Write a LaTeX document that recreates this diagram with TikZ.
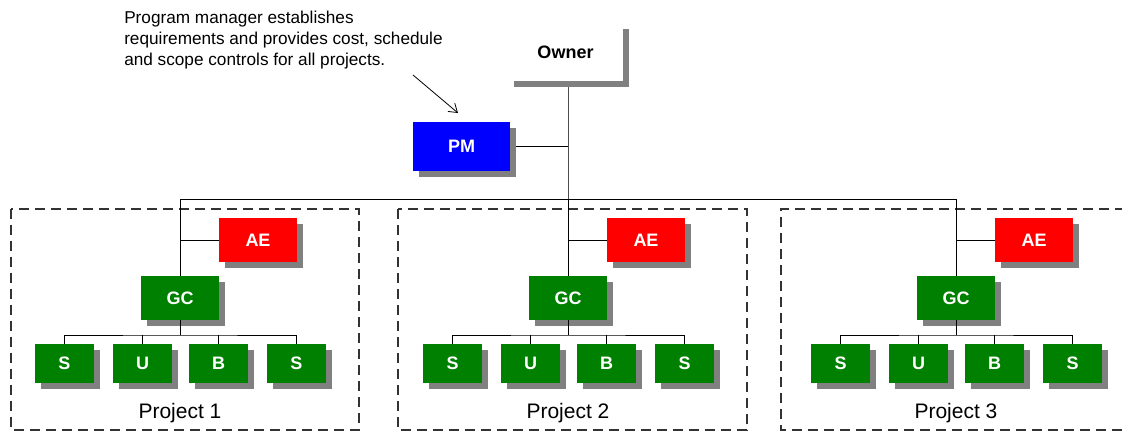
\documentclass[tikz,border=0pt]{standalone}
\usepackage{fontspec}
\setmainfont{Liberation Sans}
\usetikzlibrary{shadows,arrows.meta}
\definecolor{pmblue}{RGB}{0,0,255}
\definecolor{aered}{RGB}{255,0,0}
\definecolor{gcgreen}{RGB}{0,128,0}
\definecolor{shadowgray}{RGB}{128,128,128}
\tikzset{
  shad/.style={drop shadow={shadow xshift=4.5pt,shadow yshift=-4.5pt,fill=shadowgray,opacity=1}},
  orgbox/.style={shad,inner sep=0pt,text=white,font=\fontsize{13.5pt}{15pt}\selectfont\bfseries},
  pmbox/.style={orgbox,fill=pmblue,minimum width=72.75pt,minimum height=36.75pt},
  aebox/.style={orgbox,fill=aered,minimum width=58.5pt,minimum height=33pt},
  gcbox/.style={orgbox,fill=gcgreen,minimum width=58.5pt,minimum height=33pt},
  subbox/.style={orgbox,fill=gcgreen,minimum width=44.25pt,minimum height=29.25pt},
  ownerbox/.style={shad,fill=white,inner sep=0pt,minimum width=86.25pt,minimum height=43.5pt,font=\fontsize{13.5pt}{15pt}\selectfont\bfseries},
  conn/.style={line width=0.75pt,black},
  projbox/.style={line width=1pt,draw=black!80,dash pattern=on 7.5pt off 4.5pt},
  projlabel/.style={font=\fontsize{15.75pt}{18pt}\selectfont,inner sep=0pt},
  note/.style={font=\fontsize{12.9pt}{15.4pt}\selectfont,align=left,inner sep=0pt}
}
\begin{document}
\begin{tikzpicture}[x=0.75pt,y=-0.75pt]
\useasboundingbox (0,0) rectangle (1122,432);
% dashed project boxes
\draw[projbox] (11,209) rectangle (359,430);
\draw[projbox] (398,209) rectangle (747,430);
\draw[projbox] (1125,209) -- (781,209) -- (781,430) -- (1125,430);
% owner and PM
\node[ownerbox] (owner) at (565.5,52) {Owner};
\node[pmbox] (pm) at (461.5,146.5) {PM};
\coordinate (bus2) at (568,199);
\coordinate (busL) at (180,199);
\coordinate (busR) at (956,199);
\draw[line width=0.75pt,black!70] (owner.south -| bus2) ++(0,6) -- (bus2);
\draw[conn] (pm.east) ++(4.5pt,0) -- (pm.east -| bus2);
\draw[conn] (busL) -- (busR);
% annotation
\node[note,anchor=base west] (note) at (124,65) {Program manager establishes\\requirements and provides cost, schedule\\and scope controls for all projects.};
\coordinate (arrstart) at (413,75);
\coordinate (arrend) at (458,113);
\draw[line width=0.6pt,-{Straight Barb[length=6pt,width=8pt]}] (arrstart) -- (arrend);
% projects
\foreach \k/\cx in {1/180,2/568,3/956}{
  \node[gcbox] (gc\k) at (\cx,298) {GC};
  \node[aebox] (ae\k) at (\cx+78,240) {AE};
  \draw[conn] (\cx,199) -- (gc\k.north);
  \draw[conn] (ae\k.west) -- (ae\k.west -| gc\k.north);
  \node[subbox] (sa\k) at (\cx-115.5,363.5) {S};
  \node[subbox] (sb\k) at (\cx-37.5,363.5) {U};
  \node[subbox] (sc\k) at (\cx+38.5,363.5) {B};
  \node[subbox] (sd\k) at (\cx+116.5,363.5) {S};
  \coordinate (sbus\k) at (\cx,335);
  \draw[conn] (gc\k.south) -- (sbus\k);
  \draw[conn] (sa\k.north) |- (sbus\k) -| (sd\k.north);
  \draw[conn] (sb\k.north) -- (sb\k.north |- sbus\k);
  \draw[conn] (sc\k.north) -- (sc\k.north |- sbus\k);
  \node[projlabel,anchor=base] (lab\k) at (\cx,418) {Project \k};
}
\end{tikzpicture}
\end{document}
